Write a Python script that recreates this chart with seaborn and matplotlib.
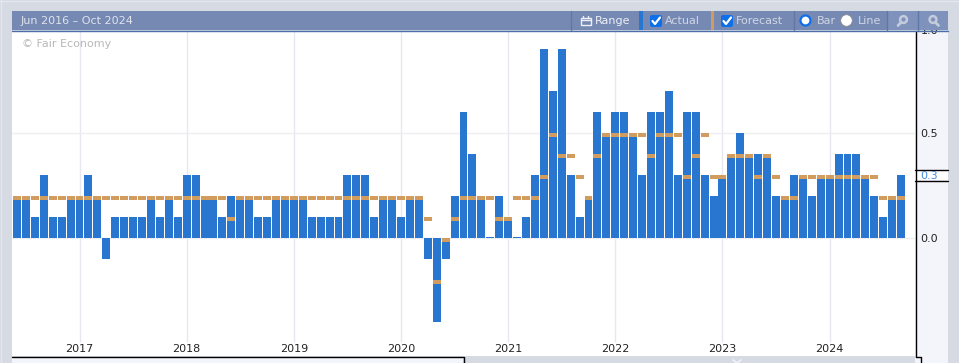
import numpy as np
import pandas as pd
import seaborn as sns
import matplotlib.pyplot as plt
from matplotlib.patches import Rectangle, Circle, FancyBboxPatch

# Monatswerte Jun 2016 - Sep 2024
actual = [0.2, 0.2, 0.1, 0.3, 0.1, 0.1, 0.2, 0.2, 0.3, 0.2,
          -0.1, 0.1, 0.1, 0.1, 0.1, 0.2, 0.1, 0.2, 0.1, 0.3,
          0.3, 0.2, 0.2, 0.1, 0.2, 0.2, 0.2, 0.1, 0.1, 0.2,
          0.2, 0.2, 0.2, 0.1, 0.1, 0.1, 0.1, 0.3, 0.3, 0.3,
          0.1, 0.2, 0.2, 0.1, 0.2, 0.2, -0.1, -0.4, -0.1, 0.2,
          0.6, 0.4, 0.2, 0.005, 0.2, 0.1, 0.005, 0.1, 0.3, 0.9,
          0.7, 0.9, 0.3, 0.1, 0.2, 0.6, 0.5, 0.6, 0.6, 0.5,
          0.3, 0.6, 0.6, 0.7, 0.3, 0.6, 0.6, 0.3, 0.2, 0.3,
          0.4, 0.5, 0.4, 0.4, 0.4, 0.2, 0.2, 0.3, 0.3, 0.2,
          0.3, 0.3, 0.4, 0.4, 0.4, 0.3, 0.2, 0.1, 0.2, 0.3]
forecast = [0.2, 0.2, 0.2, 0.2, 0.2, 0.2, 0.2, 0.2, 0.2, 0.2,
            0.2, 0.2, 0.2, 0.2, 0.2, 0.2, 0.2, 0.2, 0.2, 0.2,
            0.2, 0.2, 0.2, 0.2, 0.1, 0.2, 0.2, 0.2, 0.2, 0.2,
            0.2, 0.2, 0.2, 0.2, 0.2, 0.2, 0.2, 0.2, 0.2, 0.2,
            0.2, 0.2, 0.2, 0.2, 0.2, 0.2, 0.1, -0.2, 0.0, 0.1,
            0.2, 0.2, 0.2, 0.2, 0.1, 0.1, 0.2, 0.2, 0.2, 0.3,
            0.5, 0.4, 0.4, 0.3, 0.2, 0.4, 0.5, 0.5, 0.5, 0.5,
            0.5, 0.4, 0.5, 0.5, 0.5, 0.3, 0.4, 0.5, 0.3, 0.3,
            0.4, 0.4, 0.4, 0.3, 0.4, 0.3, 0.2, 0.2, 0.3, 0.3,
            0.3, 0.3, 0.3, 0.3, 0.3, 0.3, 0.3, 0.2, 0.2, 0.2]
year_labels = ['2017', '2018', '2019', '2020', '2021', '2022', '2023', '2024']
year_months = [7, 19, 31, 43, 55, 67, 79, 91]
y_labels = [1.0, 0.5, 0.0]
latest = 0.3
period = 'Jun 2016 – Oct 2024'

df = pd.DataFrame({'month': np.arange(len(actual)), 'actual': actual, 'forecast': forecast})

W, H = 959, 363
BLUE = '#2876cf'
ORANGE = '#d39c5f'
HEAD = '#7589b3'
GRAY = '#d5dae3'
PANEL = '#f4f5fa'

sns.set_theme(style='white')
plt.rcParams['font.family'] = ['DejaVu Sans']
fig = plt.figure(figsize=(W / 100, H / 100), dpi=100, facecolor=GRAY)


def px_axes(x0, y0, x1, y1):
    return fig.add_axes([x0 / W, 1 - y1 / H, (x1 - x0) / W, (y1 - y0) / H])


# Hauptdiagramm
ax = px_axes(12, 31, 915, 356)
ax.set_facecolor('white')
sns.barplot(data=df, x='month', y='actual', color=BLUE, saturation=1, width=0.89,
            native_scale=True, ax=ax, zorder=3, linewidth=0, edgecolor='none')
ax.bar(df['month'], -0.019, bottom=df['forecast'], width=0.89, color=ORANGE,
       linewidth=0, edgecolor='none', zorder=4)
ax.set_xlim(-0.56, 100.56)
ax.set_ylim(-0.562, 0.986)
ax.set_xlabel('')
ax.set_ylabel('')
ax.set_xticks([])
ax.set_yticks([])
ax.vlines(year_months, -0.495, 0.986, color='#e6e8f0', lw=1, zorder=1)
for v in y_labels:
    ax.axhline(v, color='#eceef2', lw=1, zorder=1)
for s in ax.spines.values():
    s.set_visible(False)
for m, t in zip(year_months, year_labels):
    ax.text(m, -0.527, t, ha='center', va='center', fontsize=8, color='#222222', zorder=5)
ax.text(22 / W, 1 - 44 / H, '© Fair Economy', transform=fig.transFigure, fontsize=8,
        color='#b8b8b8', va='center', zorder=6)

# Overlay in Pixelkoordinaten fuer die Bedienelemente
ov = fig.add_axes([0, 0, 1, 1], facecolor='none')
ov.set_xlim(0, W)
ov.set_ylim(H, 0)
ov.axis('off')

# heller Aussenrand
ov.plot([0, 959], [0.5, 0.5], color='#e4e7ed', lw=1)
ov.plot([0.5, 0.5], [0, 363], color='#e4e7ed', lw=1)

# rechte Skala
ov.add_patch(Rectangle((915, 31), 33, 332, fc=PANEL, ec='none'))
ov.plot([915.5, 915.5], [31, 356.5], color='black', lw=1)
for v in y_labels:
    # 1.0 sitzt am oberen Rand und wird vom Kopf abgeschnitten
    ov.text(920.5, max(30, 238 - v * 210), f'{v:.1f}', fontsize=8, color='#222222',
            va='center_baseline')
ov.add_patch(Rectangle((914, 170), 34, 10, fc='white', ec='none'))
ov.plot([915, 948], [169.5, 169.5], color='black', lw=1)
ov.plot([915, 948], [180.5, 180.5], color='black', lw=1)
ov.text(920.5, 175, f'{latest:.1f}', fontsize=8, color='#3f8ae0', va='center_baseline')

# unterer Rand
ov.add_patch(Rectangle((12, 357), 451, 6, fc=PANEL, ec='none'))
ov.plot([12, 463.5, 463.5], [356.5, 356.5, 363], color='black', lw=1)
ov.plot([915.5, 920.5, 920.5], [356.5, 356.5, 363], color='black', lw=1)
ov.plot([733, 737, 741], [360, 363, 360], color='#f2f3f7', lw=1.2)

# Kopfzeile
ov.add_patch(Rectangle((12, 11), 936, 19, fc=HEAD, ec='none', zorder=5))
ov.plot([12, 948], [30.5, 30.5], color='#4d6ea8', lw=1, zorder=5)
ov.text(21, 21, period, fontsize=8, color='#dfe3ec', va='center', zorder=6)
for x in [570.5, 793.5, 886.5, 917.5]:
    ov.plot([x, x], [11, 30], color='#5f78a8', lw=1, zorder=6)
ov.add_patch(Rectangle((639, 11), 4, 19, fc=BLUE, ec='none', zorder=6))
ov.add_patch(Rectangle((711, 11), 3, 19, fc=ORANGE, ec='none', zorder=6))

# Range-Symbol
ov.add_patch(Rectangle((580.5, 17.5), 10, 7, fc='none', ec='#eef0f6', lw=1, zorder=6))
ov.plot([580.5, 590.5], [20, 20], color='#eef0f6', lw=1, zorder=6)
ov.plot([583, 583], [15.5, 18], color='#eef0f6', lw=1, zorder=6)
ov.plot([588, 588], [15.5, 18], color='#eef0f6', lw=1, zorder=6)
ov.text(595, 21, 'Range', fontsize=8, color='#eef0f6', va='center', zorder=6)

# Checkboxen
for x, label in [(650, 'Actual'), (721, 'Forecast')]:
    ov.add_patch(FancyBboxPatch((x + 1, 16), 10, 10, boxstyle='round,pad=1,rounding_size=2',
                                fc='#0f6fe8', ec='none', zorder=6))
    ov.plot([x + 2.5, x + 5, x + 10], [21, 24, 17.5], color='white', lw=1.6, zorder=7)
    ov.text(x + 15, 21, label, fontsize=8, color='#d0d6e4', va='center', zorder=6)

# Radios
ov.add_patch(Circle((805.5, 20.5), 5, fc='white', ec='#0f6fe8', lw=1.6, zorder=6))
ov.text(817, 21, 'Bar', fontsize=8, color='#d0d6e4', va='center', zorder=6)
ov.add_patch(Circle((846.5, 20.5), 5.8, fc='white', ec='#8a8a8a', lw=0.6, zorder=6))
ov.text(858, 21, 'Line', fontsize=8, color='#d0d6e4', va='center', zorder=6)

# Lupen
ov.add_patch(Rectangle((887, 11), 61, 19, fc='#7f92bb', ec='none', zorder=5.5))
for cx, off in [(903.5, -5), (933, 5)]:
    ov.add_patch(Circle((cx, 19.5), 3.4, fc='none', ec='#c3cbdd', lw=1.8, zorder=6))
    ov.plot([cx + off * 0.5, cx + off * 1.1], [22.5, 25.5], color='#c3cbdd', lw=2, zorder=6)

fig.savefig('out.png', dpi=100, facecolor=fig.get_facecolor())
